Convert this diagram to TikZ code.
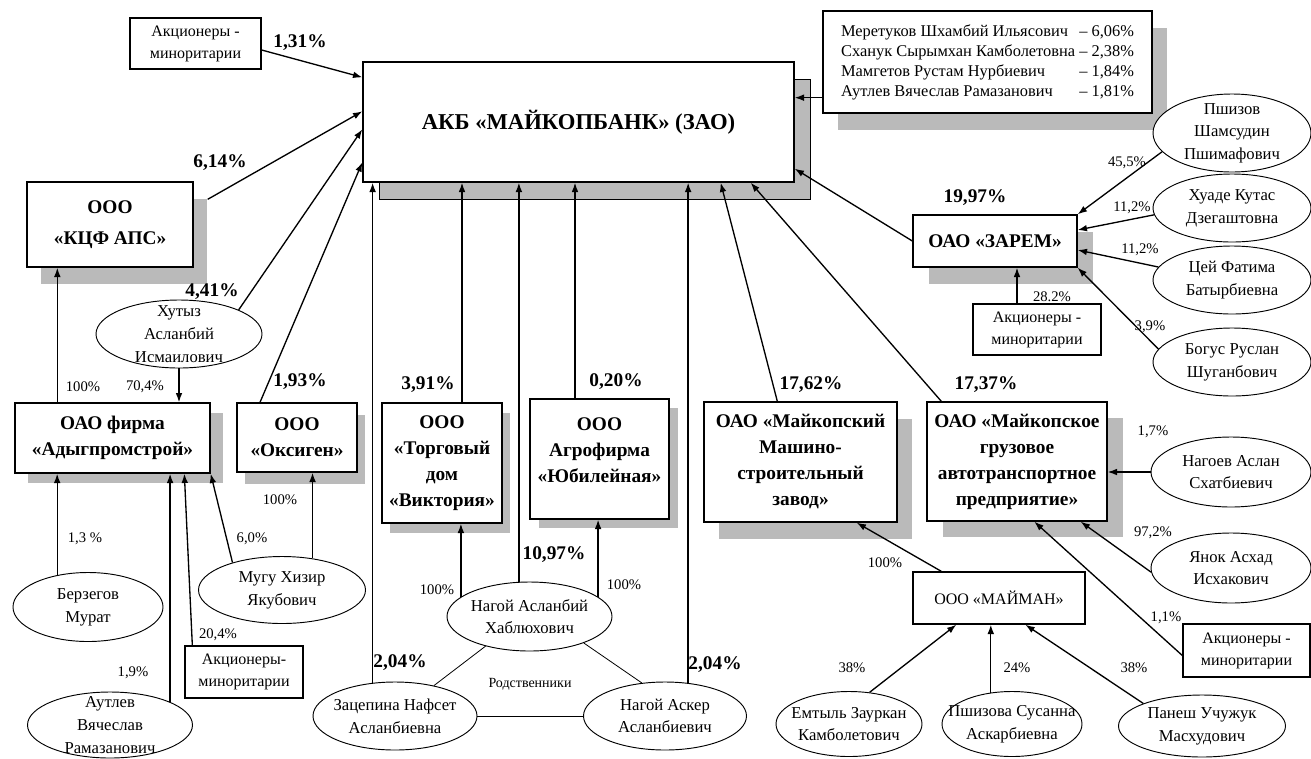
\documentclass[tikz,border=0pt]{standalone}
\usepackage{fontspec}
\setmainfont{Liberation Serif}
\usepackage{tikz}
\usetikzlibrary{shapes, arrows.meta, positioning, shadows, calc}

\begin{document}
\begin{tikzpicture}[ % структура собственности банка, 1 ед. = 1 px
    x=0.75pt, y=-0.75pt,
    box/.style={rectangle, draw, line width=1pt, fill=white, align=center, inner sep=2pt, font=\fontsize{14.5}{19.5}\selectfont\bfseries}, % фирмы
    plain/.style={rectangle, draw, line width=1pt, fill=white, align=center, inner sep=2pt, font=\fontsize{12}{16.5}\selectfont},
    person/.style={ellipse, draw, line width=0.7pt, fill=white, align=center, inner xsep=-20pt, inner ysep=-8pt, font=\fontsize{12.5}{17}\selectfont},
    boxshadow/.style 2 args={drop shadow={shadow xshift=#1, shadow yshift=#2, fill=black!27, opacity=1}},
    line/.style={draw, line width=1pt, -{Latex[length=7pt, width=5pt]}},
    tie/.style={draw, line width=0.6pt},
    pct/.style={font=\fontsize{11}{13}\selectfont, inner sep=0pt},
    pctb/.style={font=\fontsize{14.5}{16}\selectfont\bfseries, inner sep=0pt}
    ]
    \useasboundingbox (0,0) rectangle (1311,758);

    % Банк и прямые акционеры
    \node [box, minimum width=323.25pt, minimum height=90pt, font=\fontsize{17}{20}\selectfont\bfseries,
           drop shadow={shadow xshift=12pt, shadow yshift=-12.75pt, fill=black!27, draw=black, line width=0.7pt, opacity=1}] (bank) at (578.5,122) {АКБ «МАЙКОПБАНК» (ЗАО)};
    \node [plain, minimum width=246.75pt, minimum height=76.5pt, font=\fontsize{12.3}{15}\selectfont, boxshadow={11.25pt}{-12.75pt}] (owners) at (987.5,62)
        {\begin{tabular}{@{}l@{\ }r@{}}
          Меретуков Шхамбий Ильясович & – 6,06\% \\
          Сханук Сырымхан Камболетовна & – 2,38\% \\
          Мамгетов Рустам Нурбиевич & – 1,84\% \\
          Аутлев Вячеслав Рамазанович & – 1,81\%
        \end{tabular}};
    \node [plain, minimum width=98.25pt, minimum height=38.25pt] (minA) at (195.5,43.5) {Акционеры -\\миноритарии};

    % Фирмы
    \node [box, minimum width=124.5pt, minimum height=63.75pt, font=\fontsize{14.5}{23}\selectfont\bfseries, boxshadow={10.5pt}{-12.75pt}] (kcf) at (110,224.5) {ООО\\«КЦФ АПС»};
    \node [box, minimum width=146.25pt, minimum height=52.5pt, boxshadow={9.75pt}{-7.5pt}] (adyg) at (112.5,438) {ОАО фирма\\«Адыгпромстрой»};
    \node [box, minimum width=90pt, minimum height=51.75pt, boxshadow={6pt}{-9pt}] (oksig) at (297,437.5) {ООО\\«Оксиген»};
    \node [box, minimum width=90pt, minimum height=90pt, boxshadow={6pt}{-7.5pt}] (torg) at (442,463) {ООО\\«Торговый\\дом\\«Виктория»};
    \node [box, minimum width=104.25pt, minimum height=90pt, boxshadow={6.75pt}{-6.75pt}] (ubil) at (599.5,459) {ООО\\Агрофирма\\«Юбилейная»\\[-6pt]\mbox{}};
    \node [box, minimum width=144.75pt, minimum height=90pt, boxshadow={11.25pt}{-12.75pt}] (mmz) at (800.5,462) {ОАО «Майкопский\\Машино-\\строительный\\завод»};
    \node [box, minimum width=135pt, minimum height=89.25pt, boxshadow={12pt}{-12pt}] (mgatp) at (1017,461.5) {ОАО «Майкопское\\грузовое\\автотранспортное\\предприятие»};
    \node [box, minimum width=123pt, minimum height=39pt, boxshadow={12pt}{-12.75pt}] (zarem) at (995,241) {ОАО «ЗАРЕМ»};
    \node [plain, minimum width=96pt, minimum height=38.25pt] (minZ) at (1037,329.5) {Акционеры -\\миноритарии};
    \node [plain, minimum width=88.5pt, minimum height=39pt] (minA2) at (244,672) {Акционеры-\\миноритарии};
    \node [plain, minimum width=95.25pt, minimum height=39.75pt] (minM) at (1246.5,650.5) {Акционеры -\\миноритарии};
    \node [plain, minimum width=129pt, minimum height=39pt] (mayman) at (999,598) {ООО «МАЙМАН»};

    % Физические лица
    \node [person, minimum width=124.5pt, minimum height=51pt] (hutyz) at (179,334) {Хутыз\\Асланбий\\Исмаилович};
    \node [person, minimum width=112.5pt, minimum height=51.75pt] (berzeg) at (88,607) {Берзегов\\Мурат};
    \node [person, minimum width=123.75pt, minimum height=49.5pt] (autlev) at (110,725) {Аутлев\\Вячеслав\\Рамазанович};
    \node [person, minimum width=125.25pt, minimum height=50.25pt] (mugu) at (282,590) {Мугу Хизир\\Якубович};
    \node [person, minimum width=123.75pt, minimum height=51.75pt] (nagoyA) at (529.5,616.5) {Нагой Асланбий\\Хаблюхович};
    \node [person, minimum width=123pt, minimum height=51pt] (zacep) at (395,716) {Зацепина Нафсет\\Асланбиевна};
    \node [person, minimum width=122.25pt, minimum height=51pt] (nagoyAsk) at (665,716) {Нагой Аскер\\Асланбиевич};
    \node [person, minimum width=118.5pt, minimum height=58.5pt] (pshizov) at (1232,133) {Пшизов\\Шамсудин\\Пшимафович};
    \node [person, minimum width=118.5pt, minimum height=51pt] (huade) at (1232,208) {Хуаде Кутас\\Дзегаштовна};
    \node [person, minimum width=118.5pt, minimum height=51pt] (tsey) at (1232,280) {Цей Фатима\\Батырбиевна};
    \node [person, minimum width=118.5pt, minimum height=51pt] (bogus) at (1232,362) {Богус Руслан\\Шуганбович};
    \node [person, minimum width=120pt, minimum height=52.5pt] (nagoev) at (1231,472) {Нагоев Аслан\\Схатбиевич};
    \node [person, minimum width=120pt, minimum height=52.5pt] (yanok) at (1231,568) {Янок Асхад\\Исхакович};
    \node [person, minimum width=109.5pt, minimum height=48.75pt] (emtyl) at (849,724) {Емтыль Зауркан\\Камболетович};
    \node [person, minimum width=105pt, minimum height=48.75pt] (pshizova) at (1012,724) {Пшизова Сусанна\\Аскарбиевна};
    \node [person, minimum width=125.25pt, minimum height=46.5pt] (panesh) at (1202,726) {Панеш Учужук\\Масхудович};

    % Доли в банке
    \path [line] ($(minA.east)+(0,6.5)$) -- ($(bank.north west)+(0,16)$);
    \path [line] ($(kcf.north east)+(14,18)$) -- ($(bank.north west)+(0,50)$);
    \path [line] (hutyz.22) -- ($(bank.north west)+(0,68)$);
    \path [line] ($(oksig.north)+(-37,0)$) -- ($(bank.north west)+(0,101)$);
    \path [line] (zacep.124) -- (zacep.124 |- bank.south);
    \path [line] ($(torg.north)+(20,0)$) coordinate (t1) -- (t1 |- bank.south);
    \path [line] (nagoyA.107) -- (nagoyA.107 |- bank.south);
    \path [line] ($(ubil.north)+(-24.5,0)$) coordinate (u1) -- (u1 |- bank.south);
    \path [line] (nagoyAsk.55) -- (nagoyAsk.55 |- bank.south);
    \path [line] ($(mmz.north west)+(74,0)$) -- ($(bank.south east)+(-74,0)$);
    \path [line] ($(mgatp.north west)+(15,0)$) -- ($(bank.south east)+(-44,0)$);
    \path [line] (zarem.west) -- ($(bank.south east)+(0,-14)$);
    \path [line] ($(owners.south west)+(0,-16)$) coordinate (o1) -- (o1 -| bank.east);

    % Доли в фирмах
    \path [line] ($(adyg.north west)+(43,0)$) coordinate (a1) -- (a1 |- kcf.south);
    \path [line] (hutyz.south) -- (hutyz.south |- adyg.north);
    \path [line] (berzeg.134) -- (berzeg.134 |- adyg.south);
    \path [line] (autlev.21) -- (autlev.21 |- adyg.south);
    \path [line] ($(minA2.north west)+(8,0)$) -- ($(adyg.south west)+(170,0)$);
    \path [line] (mugu.151) -- (adyg.south east);
    \path [line] (mugu.46) -- (mugu.46 |- oksig.south);
    \path [line] (nagoyA.164) -- (nagoyA.164 |- torg.south);
    \path [line] (nagoyA.16) -- (nagoyA.16 |- ubil.south);
    \path [line] (pshizov.195) -- (zarem.north east);
    \path [line] (huade.185) -- ($(zarem.east)+(0,-11)$);
    \path [line] (tsey.170) -- ($(zarem.east)+(0,9)$);
    \path [line] (bogus.170) -- (zarem.south east);
    \path [line] ($(minZ.north)+(-20,0)$) coordinate (z1) -- (z1 |- zarem.south);
    \path [line] (nagoev.west) -- (nagoev.west -| mgatp.east);
    \path [line] (yanok.183) -- ($(mgatp.south east)+(-27,0)$);
    \path [line] ($(minM.west)+(0,5)$) -- ($(mgatp.south west)+(108,0)$);
    \path [line] ($(mayman.north west)+(29,0)$) -- ($(mmz.south east)+(-41,0)$);
    \path [line] (emtyl.57) -- ($(mayman.south west)+(44,0)$);
    \path [line] (pshizova.124) -- (pshizova.124 |- mayman.south);
    \path [line] (panesh.159) -- ($(mayman.south west)+(113,0)$);

    % Родственные связи
    \path [tie] (nagoyA.214) -- (zacep.38);
    \path [tie] (nagoyA.334) -- (nagoyAsk.125);
    \path [tie] (zacep.east) -- (nagoyAsk.west);
    \node [pct, font=\fontsize{10.5}{12}\selectfont] (rel) at (530,684) {Родственники};

    % Подписи долей
    \node [pctb] (p131) at (300,43) {1,31\%};
    \node [pctb] (p614) at (220,163) {6,14\%};
    \node [pctb] (p441) at (212,292) {4,41\%};
    \node [pctb] (p193) at (300,382) {1,93\%};
    \node [pctb] (p391) at (428,385) {3,91\%};
    \node [pctb] (p020) at (616,382) {0,20\%};
    \node [pctb] (p1097) at (554,555) {10,97\%};
    \node [pctb] (p204a) at (400,663) {2,04\%};
    \node [pctb] (p204b) at (715,665) {2,04\%};
    \node [pctb] (p1762) at (811,385) {17,62\%};
    \node [pctb] (p1737) at (986,385) {17,37\%};
    \node [pctb] (p1997) at (975,198) {19,97\%};
    \node [pct] (q1) at (83,387) {100\%};
    \node [pct] (q2) at (145,387) {70,4\%};
    \node [pct] (q3) at (85,539) {1,3 \%};
    \node [pct] (q4) at (252,539) {6,0\%};
    \node [pct] (q5) at (280,500) {100\%};
    \node [pct] (q6) at (133,673) {1,9\%};
    \node [pct] (q7) at (218,635) {20,4\%};
    \node [pct] (q8) at (437,590) {100\%};
    \node [pct] (q9) at (624,585) {100\%};
    \node [pct] (q10) at (1127,163) {45,5\%};
    \node [pct] (q11) at (1132,208) {11,2\%};
    \node [pct] (q12) at (1140,250) {11,2\%};
    \node [pct] (q13) at (1150,327) {3,9\%};
    \node [pct] (q14) at (1052,297) {28.2\%};
    \node [pct] (q15) at (1153,432) {1,7\%};
    \node [pct] (q16) at (1153,533) {97,2\%};
    \node [pct] (q17) at (1166,618) {1,1\%};
    \node [pct] (q18) at (885,563) {100\%};
    \node [pct] (q19) at (852,668) {38\%};
    \node [pct] (q20) at (1017,668) {24\%};
    \node [pct] (q21) at (1134,668) {38\%};

\end{tikzpicture}
\end{document}
